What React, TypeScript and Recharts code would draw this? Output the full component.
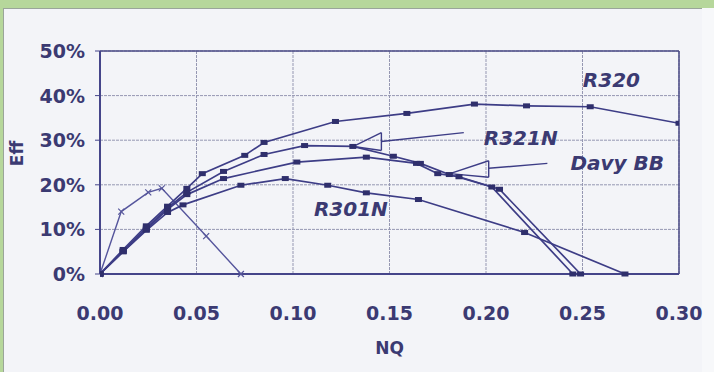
import React from 'react';
import { LineChart, Line, XAxis, YAxis, CartesianGrid, ReferenceLine, ReferenceDot, Label } from 'recharts';

// ---- data ----
const xTicks = [0, 0.05, 0.1, 0.15, 0.2, 0.25, 0.3];
const yTicks = [0, 10, 20, 30, 40, 50];

const r320NQ = [0, 0.012, 0.024, 0.035, 0.045, 0.053, 0.075, 0.085, 0.122, 0.159, 0.194, 0.221, 0.254, 0.3];
const r320Eff = [0, 5.5, 10.8, 15.2, 19.2, 22.5, 26.6, 29.5, 34.2, 36.0, 38.1, 37.7, 37.5, 33.8];

const r321NQ = [0, 0.012, 0.024, 0.035, 0.045, 0.064, 0.085, 0.106, 0.131, 0.152, 0.166, 0.181, 0.203, 0.245];
const r321Eff = [0, 5.2, 10.3, 14.8, 18.3, 23.0, 26.8, 28.8, 28.6, 26.4, 24.8, 22.3, 19.5, 0];

const davyNQ = [0, 0.012, 0.024, 0.035, 0.045, 0.064, 0.102, 0.138, 0.164, 0.175, 0.186, 0.207, 0.249];
const davyEff = [0, 5.0, 10.0, 14.5, 17.8, 21.4, 25.1, 26.2, 24.8, 22.5, 21.8, 19.0, 0];

const r301NQ = [0, 0.012, 0.024, 0.035, 0.043, 0.073, 0.096, 0.118, 0.138, 0.165, 0.22, 0.272];
const r301Eff = [0, 5.0, 9.8, 13.8, 15.5, 19.9, 21.4, 19.9, 18.2, 16.7, 9.3, 0];

const steepNQ = [0, 0.011, 0.025, 0.032, 0.055, 0.073];
const steepEff = [0, 14, 18.3, 19.2, 8.5, 0];

const labelR320 = { text: 'R320', nq: 0.265, eff: 43.5 };
const labelR321 = { text: 'R321N', nq: 0.218, eff: 30.6 };
const labelDavy = { text: 'Davy BB', nq: 0.268, eff: 24.8 };
const labelR301 = { text: 'R301N', nq: 0.13, eff: 14.7 };

// pointer arrows (open triangles + lines), in data units
const arrowR321 = { tip: [0.1313, 28.6], baseTop: [0.1458, 31.7], baseBot: [0.1458, 27.7], from: [0.1458, 29.7], to: [0.1885, 31.7] };
const arrowDavy = { tip: [0.1813, 22.5], baseTop: [0.2014, 25.4], baseBot: [0.2014, 21.7], from: [0.2014, 23.7], to: [0.2318, 24.8] };

const zip = (xs: number[], ys: number[]) => xs.map((x, i) => ({ nq: x, eff: ys[i] }));

const NAVY = '#3d3d86';
const TEXT = '#3b3a72';
const FONT = '"DejaVu Sans", Arial, sans-serif';

const SquareDot = (p: any) => {
  const { cx, cy } = p;
  if (cx == null || cy == null) return null;
  return <rect x={cx - 3.5} y={cy - 2.5} width={7} height={5} fill="#2f2f6c" />;
};

const OpenDot = (p: any) => {
  const { cx, cy } = p;
  if (cx == null || cy == null) return null;
  return (
    <g stroke="#55559a" strokeWidth={1.2} fill="none">
      <path d={`M${cx - 3},${cy - 3}L${cx + 3},${cy + 3}M${cx - 3},${cy + 3}L${cx + 3},${cy - 3}`} />
    </g>
  );
};

const XTick = (p: any) => {
  const { x, y, payload } = p;
  return (
    <text x={x} y={y} dy={46} textAnchor="middle" fill={TEXT} fontFamily={FONT} fontWeight="bold" fontSize={19}>
      {Number(payload.value).toFixed(2)}
    </text>
  );
};

const YTick = (p: any) => {
  const { x, y, payload } = p;
  return (
    <text x={x} y={y} dy={7} textAnchor="end" fill={TEXT} fontFamily={FONT} fontWeight="bold" fontSize={19}>
      {`${payload.value}%`}
    </text>
  );
};

const EffLabel = (p: any) => {
  const vb = p.viewBox || { x: 0, y: 0, width: 0, height: 0 };
  const cx = vb.x + 12;
  const cy = vb.y + vb.height / 2 - 9;
  return (
    <text x={cx} y={cy} transform={`rotate(-90 ${cx} ${cy})`} textAnchor="middle" dy={6} fill={TEXT} fontFamily={FONT} fontWeight="bold" fontSize={17}>
      Eff
    </text>
  );
};

const NQLabel = (p: any) => {
  const vb = p.viewBox || { x: 0, y: 0, width: 0, height: 0 };
  const cx = vb.x + vb.width / 2;
  return (
    <text x={cx} y={vb.y} dy={80} textAnchor="middle" fill={TEXT} fontFamily={FONT} fontWeight="bold" fontSize={17}>
      NQ
    </text>
  );
};

const seg = (a: number[], b: number[]) => [{ x: a[0], y: a[1] }, { x: b[0], y: b[1] }];

const Arrow = (a: typeof arrowR321, key: string) => [
  <ReferenceLine key={key + 'a'} segment={seg(a.tip, a.baseTop)} stroke={NAVY} strokeWidth={1.4} ifOverflow="visible" />,
  <ReferenceLine key={key + 'b'} segment={seg(a.tip, a.baseBot)} stroke={NAVY} strokeWidth={1.4} ifOverflow="visible" />,
  <ReferenceLine key={key + 'c'} segment={seg(a.baseTop, a.baseBot)} stroke={NAVY} strokeWidth={1.4} ifOverflow="visible" />,
  <ReferenceLine key={key + 'd'} segment={seg(a.from, a.to)} stroke={NAVY} strokeWidth={1.4} ifOverflow="visible" />,
];

const TextMark = (l: { text: string; nq: number; eff: number }) => (
  <ReferenceDot key={l.text} x={l.nq} y={l.eff} r={0} fill="none" stroke="none" ifOverflow="visible">
    <Label value={l.text} position="center" fill={TEXT} fontFamily={FONT} fontWeight="bold" fontStyle="italic" fontSize={20} />
  </ReferenceDot>
);

export default function App() {
  return (
    <div style={{ position: 'fixed', left: 0, top: 0, width: 714, height: 372, background: '#b6d79b', overflow: 'hidden' }}>
      <div style={{ position: 'absolute', left: 3, top: 8, width: 698, height: 370, background: '#f3f4f8', borderLeft: '1px solid #9aa59a', borderTop: '1px solid #9aa59a' }} />
      <div style={{ position: 'absolute', left: 702, top: 8, width: 12, height: 370, background: '#f7f8fa' }} />
      <div style={{ position: 'absolute', left: 0, top: 0 }}>
        <LineChart width={714} height={372} margin={{ top: 51, right: 35, bottom: 68, left: 5 }}>
          <CartesianGrid stroke="#9597b2" strokeWidth={1} strokeDasharray="3 1" />
          <XAxis
            type="number"
            dataKey="nq"
            domain={[0, 0.3]}
            ticks={xTicks}
            allowDataOverflow
            height={30}
            tickSize={0}
            tickMargin={0}
            tickLine={false}
            axisLine={{ stroke: '#45458a', strokeWidth: 2 }}
            tick={<XTick />}
          >
            <Label content={<NQLabel />} />
          </XAxis>
          <YAxis
            type="number"
            domain={[0, 50]}
            ticks={yTicks}
            width={95}
            tickSize={5}
            tickMargin={10}
            tickLine={{ stroke: '#45458a' }}
            axisLine={{ stroke: '#45458a', strokeWidth: 2 }}
            tick={<YTick />}
          >
            <Label content={<EffLabel />} />
          </YAxis>
          <ReferenceLine y={50} stroke="#4b4b86" strokeWidth={1.5} />
          <ReferenceLine x={0.3} stroke="#4b4b86" strokeWidth={1.5} />

          <Line data={zip(steepNQ, steepEff)} dataKey="eff" type="linear" stroke="#55559c" strokeWidth={1.4} dot={<OpenDot />} isAnimationActive={false} />
          <Line data={zip(r301NQ, r301Eff)} dataKey="eff" type="linear" stroke={NAVY} strokeWidth={1.7} dot={<SquareDot />} isAnimationActive={false} />
          <Line data={zip(davyNQ, davyEff)} dataKey="eff" type="linear" stroke={NAVY} strokeWidth={1.7} dot={<SquareDot />} isAnimationActive={false} />
          <Line data={zip(r321NQ, r321Eff)} dataKey="eff" type="linear" stroke={NAVY} strokeWidth={1.7} dot={<SquareDot />} isAnimationActive={false} />
          <Line data={zip(r320NQ, r320Eff)} dataKey="eff" type="linear" stroke={NAVY} strokeWidth={1.7} dot={<SquareDot />} isAnimationActive={false} />

          {Arrow(arrowR321, 'r321')}
          {Arrow(arrowDavy, 'davy')}
          {TextMark(labelR320)}
          {TextMark(labelR321)}
          {TextMark(labelDavy)}
          {TextMark(labelR301)}
        </LineChart>
      </div>
    </div>
  );
}
